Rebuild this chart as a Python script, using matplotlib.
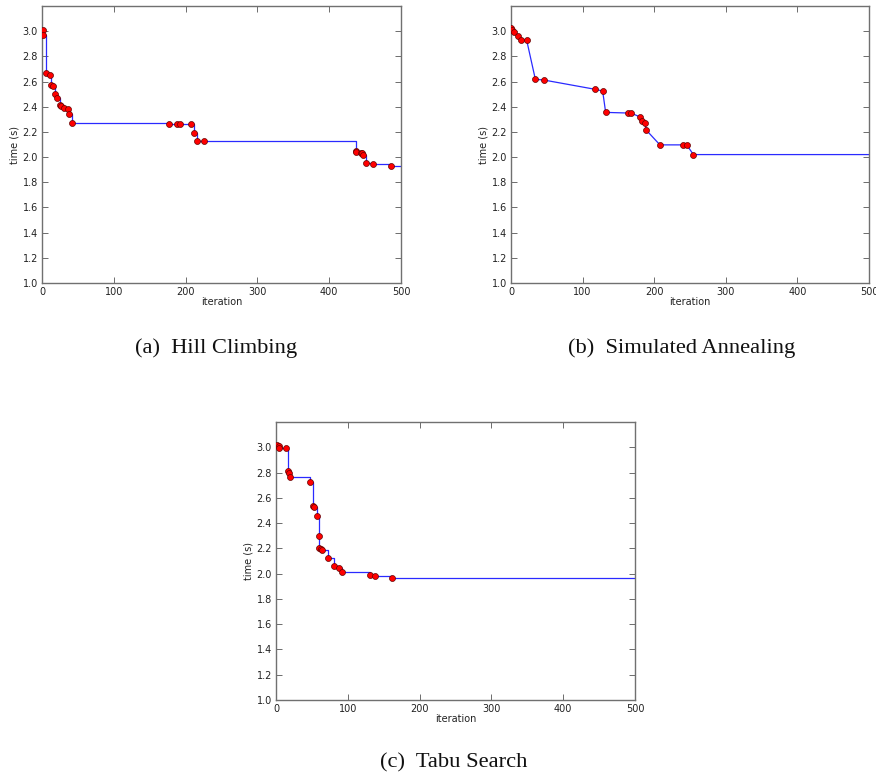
import matplotlib
matplotlib.use("Agg")
import matplotlib.pyplot as plt

# Hill Climbing
hc_iter = [1, 2, 6, 11.6, 13, 15, 17.7, 21.4, 25, 26.5, 31, 36, 37.7, 41.4,
           176.7, 187.4, 192, 207.4, 211.6, 216, 226,
           436.7, 437.7, 444, 445.6, 447, 450.7, 461, 486.5]
hc_time = [3.008, 2.97, 2.671, 2.655, 2.576, 2.565, 2.504, 2.47, 2.411, 2.403,
           2.393, 2.38, 2.342, 2.27,
           2.265, 2.265, 2.265, 2.26, 2.194, 2.125, 2.125,
           2.045, 2.04, 2.032, 2.029, 2.013, 1.955, 1.947, 1.926]

# Simulated Annealing
sa_iter = [0.5, 2, 3.7, 9.3, 13.5, 21.9, 34, 46, 117.8, 128, 132.2, 163.4,
           167.6, 179.7, 182.5, 187.6, 188.5, 208, 240, 245.8, 254.7]
sa_time = [3.024, 3.008, 2.995, 2.958, 2.928, 2.928, 2.618, 2.612, 2.538,
           2.525, 2.355, 2.35, 2.35, 2.32, 2.283, 2.272, 2.217, 2.097, 2.097,
           2.094, 2.02]

# Tabu Search
ts_iter = [1.4, 4.6, 4.6, 13.5, 16.2, 17.6, 19, 47.8, 52, 53, 56.6, 59.9,
           60.4, 62.2, 64, 72, 81.2, 87.7, 91.9, 131.4, 137.4, 162]
ts_time = [3.021, 3.008, 2.995, 2.995, 2.81, 2.80, 2.767, 2.722, 2.532, 2.524,
           2.46, 2.296, 2.204, 2.193, 2.185, 2.122, 2.058, 2.042, 2.016, 1.99,
           1.984, 1.966]

x_end = 500
xticks = [0, 100, 200, 300, 400, 500]
yticks = [1.0, 1.2, 1.4, 1.6, 1.8, 2.0, 2.2, 2.4, 2.6, 2.8, 3.0]
captions = ["(a)  Hill Climbing", "(b)  Simulated Annealing", "(c)  Tabu Search"]

W, H = 876, 775
fig = plt.figure(figsize=(W / 100, H / 100), dpi=100)


def make_ax(l, t, r, b):
    return fig.add_axes([l / W, 1 - b / H, (r - l) / W, (b - t) / H])


def style(ax):
    ax.set_xlim(0, 500)
    ax.set_ylim(1.0, 3.2)
    ax.set_xticks(xticks)
    ax.set_yticks(yticks)
    ax.set_yticklabels([f"{v:.1f}" for v in yticks])
    ax.tick_params(direction="in", top=True, right=True, length=4, width=0.6,
                   labelsize=7, colors="#555555", labelcolor="#222222", pad=3)
    for s in ax.spines.values():
        s.set_color("#707070")
        s.set_linewidth(1.0)
    ax.set_xlabel("iteration", fontsize=7, color="#222222", labelpad=0)
    ax.set_ylabel("time (s)", fontsize=7, color="#222222", labelpad=2)


line_kw = dict(color="#2a2aff", lw=0.9, zorder=2)
mk_kw = dict(marker="o", ls="none", ms=4.3, mfc="red", mec="#600000", mew=0.5,
             zorder=3)

ax1 = make_ax(42, 6, 401, 283)
ax1.plot(hc_iter + [x_end], hc_time + [hc_time[-1]], drawstyle="steps-post",
         **line_kw)
ax1.plot(hc_iter, hc_time, **mk_kw)
style(ax1)

ax2 = make_ax(511, 6, 869, 283)
ax2.plot(sa_iter + [x_end], sa_time + [sa_time[-1]], **line_kw)
ax2.plot(sa_iter, sa_time, **mk_kw)
style(ax2)

ax3 = make_ax(276, 422, 635, 700)
ax3.plot(ts_iter + [x_end], ts_time + [ts_time[-1]], drawstyle="steps-post",
         **line_kw)
ax3.plot(ts_iter, ts_time, **mk_kw)
style(ax3)

cap_kw = dict(fontsize=16.2, family="Liberation Serif", ha="center",
              va="center", color="#111111")
fig.text(216 / W, 1 - 348 / H, captions[0], **cap_kw)
fig.text(682 / W, 1 - 348 / H, captions[1], **cap_kw)
fig.text(454 / W, 1 - 763 / H, captions[2], **cap_kw)

fig.savefig("out.png", dpi=100)
